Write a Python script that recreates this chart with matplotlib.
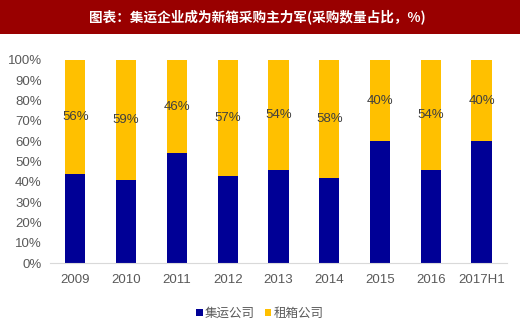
import matplotlib.pyplot as plt
from matplotlib.patches import Rectangle
from matplotlib.ticker import PercentFormatter

plt.rcParams['font.family'] = ['Liberation Sans', 'Noto Sans CJK SC', 'DejaVu Sans']

years = ['2009', '2010', '2011', '2012', '2013', '2014', '2015', '2016', '2017H1']
leasing = [56, 59, 46, 57, 54, 58, 40, 54, 40]
carrier = [100 - v for v in leasing]

blue = '#000096'
gold = '#FFC000'
grey = '#595959'
cjk = ['Noto Sans CJK SC', 'DejaVu Sans']

fig = plt.figure(figsize=(5.2, 3.31), dpi=100)

# title banner
fig.patches.append(Rectangle((0, 1 - 34 / 331), 1, 34 / 331, transform=fig.transFigure,
                             facecolor='#990000', edgecolor='none', zorder=0))
fig.text(0.495, 1 - 17 / 331, '图表：集运企业成为新箱采购主力军(采购数量占比，%)',
         color='white', fontsize=9.8, fontweight='bold', ha='center', va='center',
         family=cjk)

ax = fig.add_axes([0.096, 0.205, 0.879, 0.614])
x = range(len(years))
ax.bar(x, carrier, width=0.4, color=blue, label='集运公司')
ax.bar(x, leasing, width=0.4, bottom=carrier, color=gold, label='租箱公司')

for i, v in enumerate(leasing):
    ax.text(i, carrier[i] + v / 2, f'{v}%', ha='center', va='center',
            fontsize=9.5, color='#404040')

ax.set_xlim(-0.5, len(years) - 0.5)
ax.set_ylim(0, 100)
ax.set_yticks(range(0, 101, 10))
ax.yaxis.set_major_formatter(PercentFormatter(decimals=0))
ax.set_xticks(list(x))
ax.set_xticklabels(years)
ax.tick_params(axis='both', length=0, labelsize=9.5, labelcolor=grey)
ax.tick_params(axis='x', pad=8)
ax.tick_params(axis='y', pad=6)
for s in ['top', 'right', 'left']:
    ax.spines[s].set_visible(False)
ax.spines['bottom'].set_color('#D9D9D9')

fig.legend(loc='center', bbox_to_anchor=(0.5, 1 - 313 / 331), ncol=2, frameon=False,
           prop={'family': cjk, 'size': 9}, handlelength=0.5, handleheight=0.5,
           handletextpad=0.2, columnspacing=0.8, labelcolor=grey)

fig.savefig('out.png', dpi=100)
